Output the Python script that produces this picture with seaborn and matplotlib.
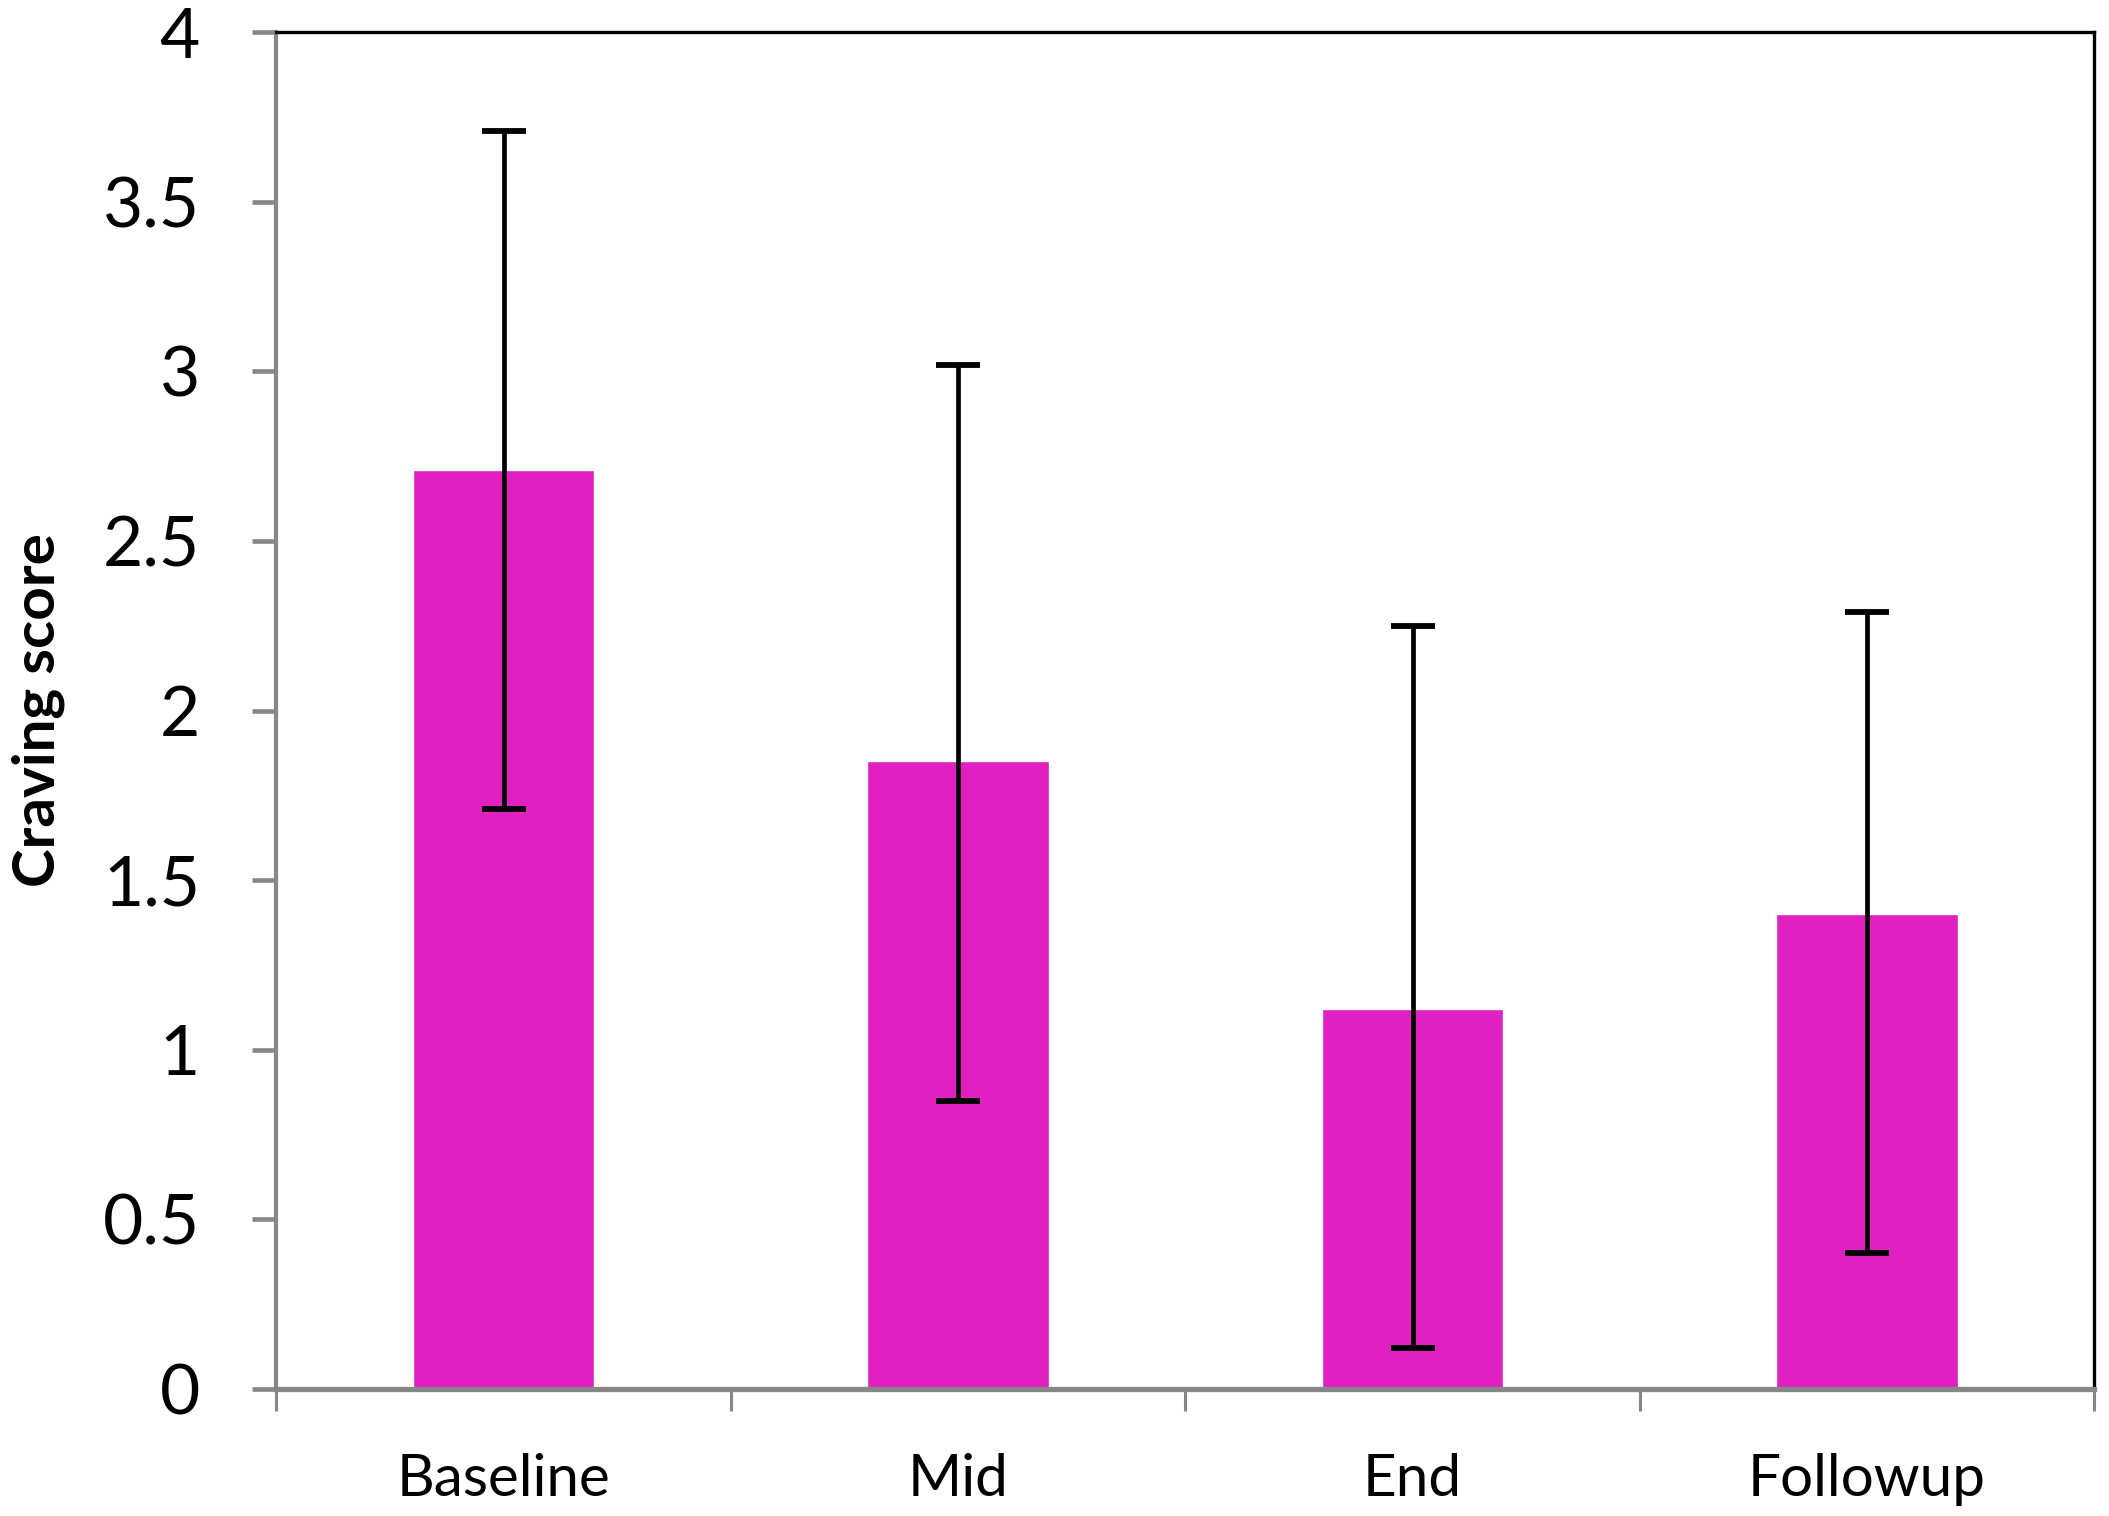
import pandas as pd
import seaborn as sns
import matplotlib.pyplot as plt
from matplotlib.ticker import FixedLocator

# Data
phases = ['Baseline', 'Mid', 'End', 'Followup']
craving_mean = [2.71, 1.85, 1.12, 1.40]
err_low = [1.71, 0.85, 0.12, 0.40]
err_high = [3.71, 3.02, 2.25, 2.29]
y_ticks = [0, 0.5, 1, 1.5, 2, 2.5, 3, 3.5, 4]
y_tick_labels = ['0', '0.5', '1', '1.5', '2', '2.5', '3', '3.5', '4']

df = pd.DataFrame({'phase': phases, 'score': craving_mean})

sns.set_theme(style='white')
plt.rcParams['font.family'] = ['Lato', 'DejaVu Sans']
plt.rcParams['text.color'] = 'black'
plt.rcParams['xtick.color'] = 'black'
plt.rcParams['ytick.color'] = 'black'
plt.rcParams['axes.labelcolor'] = 'black'

fig = plt.figure(figsize=(21.09, 15.16), dpi=100)
ax = fig.add_axes([0.131, 0.0838, 0.862, 0.895])

sns.barplot(data=df, x='phase', y='score', color='#E020C0', saturation=1,
            width=0.4, errorbar=None, ax=ax)

# asymmetric error bars
lower = [m - lo for m, lo in zip(craving_mean, err_low)]
upper = [hi - m for m, hi in zip(craving_mean, err_high)]
ax.errorbar(range(len(phases)), craving_mean, yerr=[lower, upper], fmt='none',
            ecolor='black', elinewidth=3.4, capsize=16, capthick=4.2, zorder=5)

ax.set_xlim(-0.5, len(phases) - 0.5)
ax.set_ylim(0, 4)
ax.set_yticks(y_ticks)
ax.set_yticklabels(y_tick_labels)

# axis styling, Excel look
for side in ['top', 'right']:
    ax.spines[side].set_color('black')
    ax.spines[side].set_linewidth(2.4)
ax.spines['left'].set_color('#868686')
ax.spines['left'].set_linewidth(3)
ax.spines['bottom'].set_color('#868686')
ax.spines['bottom'].set_linewidth(3.8)

ax.tick_params(axis='y', which='major', left=True, direction='out', length=17,
               width=3.3, color='#868686', labelcolor='black', labelsize=50, pad=38)
ax.tick_params(axis='x', which='major', bottom=False, length=0, labelsize=42,
               labelcolor='black', pad=46)
ax.xaxis.set_minor_locator(FixedLocator([i - 0.5 for i in range(len(phases) + 1)]))
ax.tick_params(axis='x', which='minor', bottom=True, direction='out', length=16,
               width=2.2, color='#868686')

ax.set_xlabel('')
ax.set_ylabel('Craving score', fontsize=42, fontweight='bold', color='black')
ax.yaxis.set_label_coords(-0.116, 0.5)

fig.savefig('out.png', dpi=100)
